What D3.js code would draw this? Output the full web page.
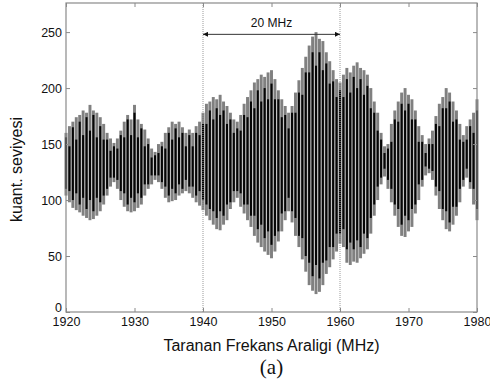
<!DOCTYPE html>
<html>
<head>
<meta charset="utf-8">
<script src="https://cdn.jsdelivr.net/npm/d3@7"></script>
<style>
  html, body { margin: 0; padding: 0; background: #fff; }
  svg text { font-family: "Liberation Sans", Arial, sans-serif; fill: #111; }
</style>
</head>
<body>
<div id="chart"></div>
<script>
// samples every 0.5 MHz from 1920 to 1980
const fStart = 1920, fStep = 0.5;

// outer (gray) envelope
const grayHi = [
  160,166,170,174,176,180,178,185,180,178,
  174,168,160,155,151,155,162,170,176,172,
  185,172,168,163,155,146,143,150,152,160,
  165,170,168,170,165,160,163,160,166,170,
  178,186,188,192,190,194,188,184,178,172,
  170,176,186,192,198,205,208,212,210,214,
  216,208,198,190,184,178,184,196,207,218,
  228,238,246,250,244,242,232,224,216,208,
  205,212,218,214,220,223,218,216,212,200,
  188,178,160,148,150,168,180,188,196,200,
  194,190,180,166,158,150,155,162,175,186,
  192,200,196,188,180,168,158,166,172,178,
  190
];
const grayLo = [
  104,98,93,91,89,86,84,82,83,86,
  90,96,104,112,116,110,100,94,90,89,
  90,93,96,104,110,114,118,116,110,102,
  98,99,100,104,106,108,106,102,98,95,
  91,86,82,78,74,73,78,82,92,98,
  102,94,88,82,76,68,62,58,54,51,
  48,54,63,72,82,90,80,68,58,47,
  36,24,19,16,18,24,34,40,47,54,
  61,58,44,42,45,44,48,52,56,70,
  86,100,114,121,110,98,86,76,68,67,
  72,76,88,100,112,122,124,118,104,92,
  82,74,72,78,86,98,112,120,110,96,
  82
];
// inner (black) trace
const blackHi = [
  156,148,165,154,170,158,174,162,176,156,
  166,154,154,144,148,146,158,156,172,158,
  178,156,164,148,150,138,140,142,148,146,
  160,154,164,156,160,148,158,148,160,158,
  168,168,180,172,182,176,180,168,172,160,
  164,162,176,174,188,182,198,188,200,190,
  204,190,190,174,176,164,178,178,196,194,
  214,214,232,220,232,216,222,204,206,192,
  198,192,208,196,210,200,208,194,202,182,
  178,162,154,142,146,152,172,170,186,180,
  186,172,172,152,152,142,150,150,168,166,
  182,182,188,170,172,154,152,154,166,160,
  180
];
const blackLo = [
  110,108,100,106,96,102,92,100,90,102,
  98,104,110,120,120,118,108,106,96,102,
  98,106,102,114,114,122,122,122,116,112,
  104,110,106,114,110,118,112,112,104,108,
  100,96,92,90,84,90,86,96,98,108,
  108,106,96,96,86,86,74,78,66,72,
  60,68,72,88,90,102,90,84,68,66,
  50,44,32,42,30,44,46,58,58,70,
  70,74,56,62,56,64,58,70,66,84,
  96,112,120,128,118,110,96,92,78,86,
  82,92,96,114,118,130,128,126,112,108,
  92,90,80,94,94,110,118,128,116,110,
  92
];

const xTicks = [1920, 1930, 1940, 1950, 1960, 1970, 1980];
const yTicks = [0, 50, 100, 150, 200, 250];
const markerFreqs = [1940, 1960];
const spanLabel = '20 MHz';
const spanLevel = 248;

const W = 490, H = 387;
const margin = { top: 3, right: 13, bottom: 75, left: 66 };
const iw = W - margin.left - margin.right;
const ih = H - margin.top - margin.bottom;

const svg = d3.select('#chart').append('svg')
  .attr('width', W).attr('height', H);
const g = svg.append('g').attr('transform', `translate(${margin.left},${margin.top})`);

const x = d3.scaleLinear().domain([1920, 1980]).range([0, iw]);
const y = d3.scaleLinear().domain([0, 276]).range([ih, 0]);

const n = Math.min(grayHi.length, grayLo.length, blackHi.length, blackLo.length);
const samples = d3.range(n).map(i => ({
  f: fStart + i * fStep,
  gh: grayHi[i], gl: grayLo[i], bh: blackHi[i], bl: blackLo[i]
}));
const step = x(fStart + fStep) - x(fStart);
const gw = step * 0.86, bw = step * 0.6;

const plot = g.append('g');
plot.selectAll('rect.g').data(samples).enter().append('rect')
  .attr('class', 'g')
  .attr('x', d => x(d.f) - gw / 2).attr('width', gw)
  .attr('y', d => y(d.gh)).attr('height', d => y(d.gl) - y(d.gh))
  .attr('fill', '#808080');
plot.selectAll('rect.b').data(samples).enter().append('rect')
  .attr('class', 'b')
  .attr('x', d => x(d.f) - bw / 2).attr('width', bw)
  .attr('y', d => y(d.bh)).attr('height', d => y(d.bl) - y(d.bh))
  .attr('fill', '#050505');

// dotted markers
g.selectAll('line.mk').data(markerFreqs).enter().append('line')
  .attr('x1', d => x(d)).attr('x2', d => x(d))
  .attr('y1', 0).attr('y2', ih)
  .attr('stroke', '#9a9a9a').attr('stroke-width', 1)
  .attr('stroke-dasharray', '1,1');

// span arrow
svg.append('defs').append('marker')
  .attr('id', 'ah').attr('viewBox', '0 0 10 10')
  .attr('refX', 10).attr('refY', 5)
  .attr('markerWidth', 8).attr('markerHeight', 5)
  .attr('markerUnits', 'userSpaceOnUse')
  .attr('orient', 'auto-start-reverse')
  .append('path').attr('d', 'M0,0L10,5L0,10Z').attr('fill', '#111');
g.append('line')
  .attr('x1', x(markerFreqs[0])).attr('x2', x(markerFreqs[1]))
  .attr('y1', y(spanLevel)).attr('y2', y(spanLevel))
  .attr('stroke', '#333').attr('stroke-width', 1)
  .attr('marker-start', 'url(#ah)').attr('marker-end', 'url(#ah)');
g.append('text')
  .attr('x', x(d3.mean(markerFreqs))).attr('y', y(spanLevel) - 7)
  .attr('text-anchor', 'middle').attr('font-size', 12)
  .text(spanLabel);

// box with inward ticks on all sides
const axisColor = '#8a8a8a';
const ax = [
  g.append('g').attr('transform', `translate(0,${ih})`).call(d3.axisBottom(x).tickValues(xTicks).tickSizeInner(-4).tickSizeOuter(0).tickPadding(5).tickFormat(d3.format('d'))),
  g.append('g').call(d3.axisTop(x).tickValues(xTicks).tickSizeInner(-4).tickSizeOuter(0).tickFormat('')),
  g.append('g').call(d3.axisLeft(y).tickValues(yTicks).tickSizeInner(-4).tickSizeOuter(0).tickPadding(4)),
  g.append('g').attr('transform', `translate(${iw},0)`).call(d3.axisRight(y).tickValues(yTicks).tickSizeInner(-4).tickSizeOuter(0).tickFormat(''))
];
ax.forEach(a => {
  a.select('.domain').remove();
  a.selectAll('line').attr('stroke', axisColor);
  a.selectAll('text').attr('font-size', 12.5).attr('fill', '#111')
    .style('font-family', '"Liberation Sans", Arial, sans-serif');
});
// the "0" sits just above the corner, clear of "1920"
ax[2].selectAll('.tick').filter(d => d === 0).select('text').attr('dy', '-0.05em');
g.append('rect').attr('x', 0).attr('y', 0).attr('width', iw).attr('height', ih)
  .attr('fill', 'none').attr('stroke', axisColor).attr('stroke-width', 1.2);

// labels
svg.append('text')
  .attr('transform', `translate(22,${margin.top + ih / 2 + 12}) rotate(-90)`)
  .attr('text-anchor', 'middle').attr('font-size', 16)
  .text('kuant. seviyesi');
svg.append('text')
  .attr('x', margin.left + iw / 2).attr('y', 351)
  .attr('text-anchor', 'middle').attr('font-size', 16)
  .text('Taranan Frekans Araligi (MHz)');
svg.append('text')
  .attr('x', margin.left + iw / 2).attr('y', 374)
  .attr('text-anchor', 'middle').attr('font-size', 21)
  .style('font-family', '"Liberation Serif", "Times New Roman", serif')
  .text('(a)');
</script>
</body>
</html>
